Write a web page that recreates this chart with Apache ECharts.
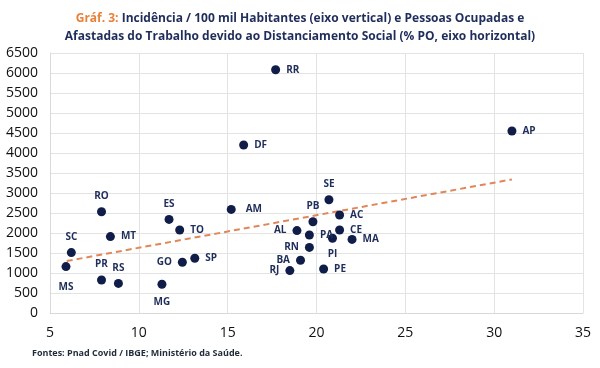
<!DOCTYPE html>
<html><head><meta charset="utf-8">
<script src="https://cdn.jsdelivr.net/npm/echarts@6/dist/echarts.min.js"></script>
<style>html,body{margin:0;padding:0;background:#fff}#c{width:600px;height:368px}</style>
</head><body><div id="c"></div>
<script>
var states = ['RR','DF','AP','SE','AM','PB','AC','AL','PA','CE','PI','MA','RN','BA','RJ','PE','RO','MT','SC','MS','PR','RS','MG','ES','TO','GO','SP'];
var xValues = [17.7,15.9,31.0,20.7,15.2,19.8,21.3,18.9,19.6,21.3,20.9,22.0,19.6,19.1,18.5,20.4,7.9,8.4,6.2,5.9,7.9,8.85,11.3,11.7,12.3,12.45,13.15];
var yValues = [6080,4200,4550,2830,2590,2280,2450,2060,1950,2075,1870,1840,1640,1320,1060,1100,2530,1910,1510,1160,825,740,720,2340,2075,1270,1370];
var labelPos = ['right','right','right','top','right','top','right','left','right','right','bottom','right','left','left','left','right','top','right','top','bottom','top','top','bottom','top','right','left','right'];
var trendX = [5.94, 31.0];
var trendY = [1300, 3340];
var xTicks = [5,10,15,20,25,30,35];

var navy = '#0f1d48';
var data = states.map(function(s,i){
  var p = labelPos[i];
  var lbl = {position:p, distance: 6};
  if (s==='AM') lbl.distance = 10;
  if (s==='MS') lbl.distance = 11;
  if (s==='MG') lbl.distance = 8;
  return {name:s, value:[xValues[i], yValues[i]], label: lbl};
});
var chart = echarts.init(document.getElementById('c'));
chart.setOption({
  animation:false,
  title:{
    text:'{o|Gráf. 3:} Incidência / 100 mil Habitantes (eixo vertical) e Pessoas Ocupadas e\nAfastadas do Trabalho devido ao Distanciamento Social (% PO, eixo horizontal)',
    left:'center', top:5,
    textStyle:{fontFamily:'Open Sans', fontSize:12, fontWeight:'bold', color:'#1f2d5a', lineHeight:18,
      rich:{o:{color:'#e8813a', fontFamily:'Open Sans', fontSize:12, fontWeight:'bold'}}}
  },
  graphic:[{type:'text', left:32, top:349, style:{text:'Fontes: Pnad Covid / IBGE; Ministério da Saúde.', font:'bold 9px "Open Sans"', fill:'#1f2d3a'}}],
  grid:{left:50, right:17, top:53, bottom:55},
  xAxis:{type:'value', min:5, max:35, interval:5,
    axisLine:{show:true, lineStyle:{color:'#d9d9d9'}}, axisTick:{show:false},
    splitLine:{show:true, lineStyle:{color:'#e3e3e3'}},
    axisLabel:{margin:13, fontFamily:'Open Sans', fontSize:14, color:'#111',
      formatter:function(v){return xTicks.indexOf(v)>=0 ? String(v) : '';}}},
  yAxis:{type:'value', min:0, max:6500, interval:500,
    axisLine:{show:true, lineStyle:{color:'#d9d9d9'}}, axisTick:{show:false},
    splitLine:{show:true, lineStyle:{color:'#e3e3e3'}},
    axisLabel:{margin:12, fontFamily:'Open Sans', fontSize:14, color:'#111',
      formatter:function(v){return String(v);}}},
  series:[
    {type:'line', data:[[trendX[0],trendY[0]],[trendX[1],trendY[1]]], symbol:'none', z:1,
      lineStyle:{color:'#e0875a', width:2, type:[6,4]}},
    {type:'scatter', data:data, symbolSize:9, z:3, itemStyle:{color:navy, opacity:1},
      label:{show:true, formatter:'{b}', color:'#1f2d5a', fontFamily:'Open Sans', fontWeight:'bold', fontSize:10}}
  ]
});
</script></body></html>
